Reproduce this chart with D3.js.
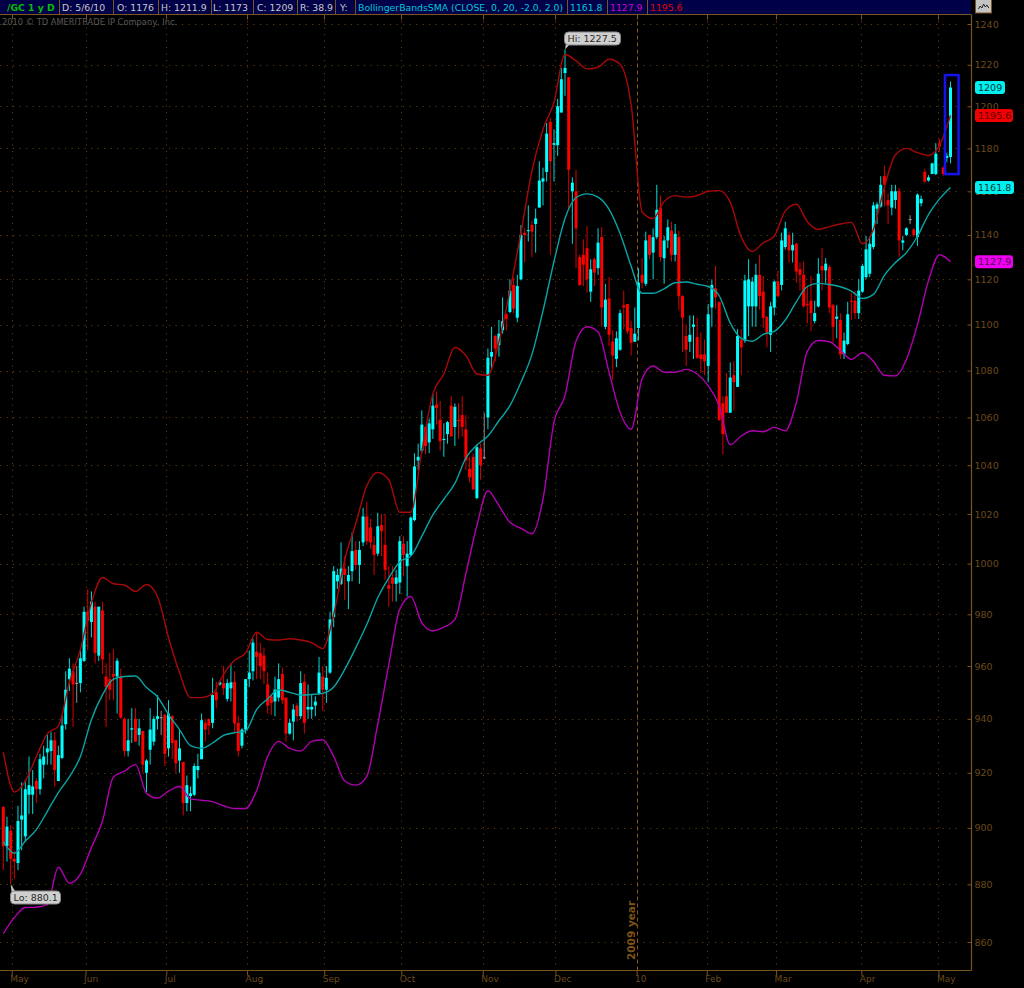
<!DOCTYPE html>
<html><head><meta charset="utf-8">
<script src="https://cdn.jsdelivr.net/npm/d3@7/dist/d3.min.js"></script>
<style>html,body{margin:0;padding:0;background:#000;overflow:hidden}svg{display:block}text{font-family:"DejaVu Sans",sans-serif}</style>
</head><body><svg id="c" width="1024" height="988"></svg>
<script>
const opens=[907.5,893.5,899,889,887.5,903,897,912,912,917,
914,923,927.5,928,932,917,925.5,938,955,958,
953.5,953.5,962,981,977,983,964,981.5,956,955,
957,956,956,940,928,936,940,934,935.5,920,
928.5,931.5,940,940.4,941.5,929,941,932,924.5,924,
909,911.5,912,921,925,938.5,940,938.5,950,953,
953.5,947.5,951.5,954,938.5,930,936,955,958,965.5,
965,964,953,948.5,946.5,948,957,948,934.5,939,
945,941,954,943.5,943.5,945,949.5,956,951,957.5,
979,993,992,998,993,997,1005.5,999.5,1008.5,1019,
1014.5,1007.5,1004,1015.5,1007.5,991.5,994.5,992,992.5,1008,
999,1003.5,1017.5,1042,1046,1056,1049.5,1055,1065.5,1059,
1050.5,1053,1065,1056,1059,1061,1055,1038.5,1043.5,1026.5,
1047,1043,1060,1086,1095,1091,1097.5,1104.5,1105.5,1117.5,
1103,1120,1141,1141.7,1144.5,1145,1152.5,1164.5,1169,1192.5,
1181.7,1181.5,1197,1216,1214,1160,1160,1130,1131,1134,
1114.5,1129,1125,1139,1099,1111.5,1092.5,1085,1089,1108.5,
1109,1098.5,1092.5,1098.5,1122,1118,1140,1132,1139,1152.5,
1129.5,1137.5,1142,1131,1139,1112.5,1095,1092.5,1099,1094.5,
1087,1087,1082,1107.5,1116,1110,1066,1069,1062,1078,
1073,1093.5,1093,1108,1108,1108,1122,1114.5,1103.5,1095.5,
1107.5,1119,1117.5,1134.5,1140,1133,1136,1124.5,1122,1109,
1110.5,1101.5,1108,1126,1124,1125.5,1108.5,1102.5,1102,1087,
1091.5,1110.5,1110.5,1105,1114.5,1121,1122.5,1134.5,1152,1153,
1167,1156,1152.5,1156,1160,1136.5,1140,1147,1142.5,1139,
1154.5,1169,1165,1168,1168,1182.5,1171,1175.5,1176];
const closes=[893.5,900.5,889,888,902.5,904.5,914,915.5,915,914,
925,926,929,932,921,926.5,937.5,951,959,953,
953.6,963,981,977.5,985,965,983,962.5,952,951,
956,962,940.5,928,932,936.5,931.5,936.5,923,924.5,
936,940,941,940.6,927,942,931,923.5,929,909,
915.5,912.5,922.5,922.5,939.5,936,937.5,949,947,953.8,
951.5,953.5,953.8,938.3,928,936,955,957.5,969,963.5,
960,958,945,946,951,955,947,934.5,938.5,943.5,
941,953.5,938.5,944.5,944.5,946.5,957.5,951,955.5,978,
997,995.5,998,995.5,995.5,1005,999.5,1005.5,1019,1009,
1008.5,1003.5,1015,1013,997.5,990,992,994.5,1009,1003.5,
1004,1018.5,1039.5,1043.5,1057,1048,1057.5,1065,1064,1050,
1051,1058,1052,1064.5,1058.5,1056,1042,1035,1030,1047.5,
1040,1043.3,1085.5,1088,1089.5,1096,1101.5,1102.5,1115,1107,
1117,1140,1140,1142.2,1141.5,1147.5,1165,1166,1187,1174,
1182.5,1200,1213,1218.5,1170,1164,1143,1117.5,1126.5,1120,
1124.5,1123,1136.5,1107.5,1111,1095.5,1086.5,1094,1105,1107.5,
1097,1092,1096,1118.5,1118.5,1137.5,1131,1139,1151.5,1130,
1137.5,1143.5,1131,1140.5,1112.5,1103,1089,1095.5,1100,1085.5,
1085,1084,1104.5,1117.5,1112,1059,1053,1062,1077,1075,
1095,1090,1119.5,1120,1119,1122,1112.5,1103,1096.5,1108,
1119,1112.5,1137.5,1143,1133,1135.5,1123.5,1122,1108,1108.5,
1105,1105,1122.5,1124,1127,1107.5,1099,1103.5,1087,1093,
1104.5,1110,1105,1115,1126,1133.5,1136,1153.5,1154,1163,
1163,1153.5,1160,1160,1137.5,1137.5,1143,1147.2,1140,1158.5,
1156.5,1164.5,1166.5,1173,1177.5,1181,1168,1176.5,1209];
const highs=[908,904,901,892,908,916.5,917.5,926,921,918,
927,930,934,935,935,930,941,958,963,961,
960,966.5,983,990,989,985,983,985,961,965,
966.5,963,959,940.5,940,944,944,940,935.5,925,
944,941,949,943,942,947,941.5,932,936,924,
919,915,923.5,927,942,940,940,955.5,954,954,
960,955,961,958,941,936.5,955,966,970.5,973,
969,967,957.5,949,956,961,959.5,948,940,945.5,
946,958,957,953,949,948.5,963.5,960,960,981,
999,998,1008.5,1003,999,1012.5,1009,1009,1022.5,1025,
1018,1011,1020.5,1020,1020,999,999,997.5,1011,1011,
1009,1019,1045,1049,1063,1056.5,1059.5,1070,1071,1067,
1057.5,1058.5,1069,1066,1066,1069,1061,1043.5,1045,1048.5,
1049,1062,1089.5,1099,1095.5,1102,1112,1105,1120,1121,
1122,1144.5,1143,1153.5,1146.5,1152,1174,1171,1192,1194.5,
1189,1203.5,1218.5,1227.5,1214,1166.5,1170,1131,1138,1144,
1129,1130,1143,1143.5,1118,1121,1097.5,1097,1106.5,1115,
1109,1101.5,1107.5,1125,1129.5,1141.5,1140,1143,1163,1158,
1139.5,1147,1146,1145,1142,1113,1100,1104,1104,1103,
1096.5,1093.5,1109,1120,1126,1110,1069,1079,1083.5,1084,
1098,1098,1122,1129,1121,1127,1131,1121.5,1103.5,1110,
1119.5,1124,1141,1146,1141.5,1141,1136.5,1127.5,1128,1117,
1121.5,1110.5,1129.5,1134,1129.5,1126.5,1109,1108.5,1105,1096.5,
1110,1114,1115,1120,1127,1139.5,1139.5,1155,1155,1167,
1172,1159,1163,1163,1161.5,1139.5,1143.5,1149,1143,1159,
1158,1170.5,1167.5,1173.3,1182.5,1184.5,1171.5,1178,1211.9];
const lows=[885,888,880.1,882,885,892,895,905,905,909,
912,918,923,923,915,917,925,936,950.5,937,
946,950,961.5,966,971,961,962,957,937,947,
947,942,940,926,926,931,931.5,930,920,913,
923,930,936,934,922.5,926,925,920,920,904.5,
906,906,911.5,918,925,931.5,934,936.5,944,952.5,
949,946.5,946.5,935,926,929,934.5,952,954.5,955,
955,953,942,941.5,941,946.5,945.5,931.5,934,932,
939,940,934.5,940,940,941,949,943,946,957,
975,990,991.5,985.5,982,993,997.5,992,1007,1007.5,
1006,995.5,1003,1003,993.5,983,985,985,988,995,
987,1003,1017,1038,1045,1044.5,1045,1051,1057,1046,
1043.5,1049,1052,1048,1051,1052,1038,1033,1030,1026,
1034,1042.5,1055,1081,1084,1086,1096,1097.5,1105,1105,
1101,1119.5,1127.5,1137,1130,1132,1152.5,1153.5,1164.5,1131,
1164.5,1176.5,1197,1205,1152,1136,1125,1117,1117,1114,
1110,1117,1122,1099,1098,1090.5,1076,1081.5,1088.5,1098,
1096,1086.5,1092.5,1093,1116,1117,1129,1120,1138,1128,
1118,1134,1128,1128,1106.5,1088,1082,1088,1085,1085,
1079,1078,1075,1099,1107,1058.5,1044.5,1062,1062,1063,
1073,1078,1092,1095,1099,1099,1106.5,1098.5,1090,1088,
1104,1112,1115,1133.5,1127.5,1127.5,1118.5,1115,1107.5,1100.5,
1097,1100.5,1107.5,1115,1118,1105,1092,1094,1085,1085,
1091,1102,1102.5,1102.5,1114,1120,1121,1133.5,1145,1152.5,
1153,1145,1149,1152,1130,1133,1139.5,1145,1139,1135,
1153,1164,1164.5,1168,1167.5,1178.5,1167,1173.5,1173];
// Bollinger band readings, one every third bar (bar 0, 3, 6 ... 258)
const upperBand=[927.7,913,917,926,934.5,937.3,953.7,966.3,984.5,994.5,
992,991.5,989,991.7,987,971,957.5,948,948,949.5,
956.8,962.2,965,973,970.2,970,970.5,970,969,966.7,
980,1001.6,1016,1031.5,1037,1034,1020.7,1020.7,1046,1070,
1078.5,1090,1086.5,1078.5,1078,1092.5,1115,1141,1169.5,1189,
1202,1225,1222,1218,1218.8,1222.7,1220.3,1201,1150.5,1147.5,
1155.3,1158,1157.3,1158,1160,1160.3,1155,1139,1132.5,1136.4,
1139.4,1151,1154,1146,1142.5,1143.8,1145,1145.7,1136,1142.5,
1162,1177,1180,1178,1176.7,1181.5,1195.6];
const middleBand=[895,891,895.3,899.4,906,912.8,918.5,926,939.7,949,
955,956,956.2,951.8,948.3,941.6,936,930,929,931,
933.8,934.8,935.5,943.5,947.5,951,950,949,949.2,949.6,
952,958.7,967,976,986.5,994.3,1000.8,1003,1011,1019.6,
1026,1032.5,1043,1048.4,1052.2,1058.6,1065,1075,1087,1106,
1128,1147.5,1157,1158.8,1157.3,1151.7,1140.7,1126,1113.8,1113.8,
1115.8,1118.5,1118.8,1117.8,1116.8,1112.7,1100.7,1094,1092.7,1095.7,
1097,1102,1110,1116.8,1118.2,1117.7,1116.7,1114.8,1111.5,1113.3,
1121.8,1127.5,1132,1139.4,1149.3,1156.5,1161.8];
const lowerBand=[862.9,868.4,871.9,872,873,886,880.4,883.6,893,902.5,
918.5,920.6,923,912.5,910.8,913.3,915,910.5,910,909.5,
908,907,907,913.5,926,931.6,929,928,931.6,932.2,
926,917,915.5,918.7,938,960.5,982,987,976.7,973.6,
975,978,996,1015.3,1029.5,1023.4,1016.6,1014.2,1012,1026,
1058,1069.3,1092.7,1099,1096.7,1079.3,1062.2,1055,1076.5,1082,
1079.3,1079.3,1080.5,1078.5,1073.5,1065,1048.6,1052.2,1054.4,1054,
1055.8,1054.4,1066.3,1088.3,1093,1092.5,1088.8,1084.8,1087.7,1084,
1078,1077.7,1084.8,1100,1119.3,1131,1127.9];
const bandStep=3;
const priceTicks=[860,880,900,920,940,960,980,1000,1020,1040,1060,1080,1100,1120,1140,1160,1180,1200,1220,1240];
const monthBars=[2.3,22.4,44.4,66.4,87.4,108.4,130.6,150.4,172.5,191.6,210.5,233.7,254.7];
const monthLabels=["May","Jun","Jul","Aug","Sep","Oct","Nov","Dec","10","Feb","Mar","Apr","May"];
const headerCells=[
 {t:"/GC 1 y D",c:"#00c000",b:1},{t:"D: 5/6/10",c:"#c8c8c8"},{t:"O: 1176",c:"#c8c8c8"},{t:"H: 1211.9",c:"#c8c8c8"},
 {t:"L: 1173",c:"#c8c8c8"},{t:"C: 1209",c:"#c8c8c8"},{t:"R: 38.9",c:"#c8c8c8"},{t:"Y:",c:"#c8c8c8"},
 {t:"BollingerBandsSMA (CLOSE, 0, 20, -2.0, 2.0)",c:"#00c8d8"},{t:"1161.8",c:"#00c8d8"},{t:"1127.9",c:"#d000d0"},{t:"1195.6",c:"#e00000"}];
const headerX=[7,62,117,161,213,257,300,340,358,570,610,650];
const headerSep=[59,113,158,211,253,297,335,355,567,607,647];
const tags=[{v:1209,t:"1209",bg:"#00f0f0",fg:"#003838",w:30},{v:1195.6,t:"1195.6",bg:"#f00000",fg:"#600000",w:38},
 {v:1161.8,t:"1161.8",bg:"#00f0f0",fg:"#003838",w:39},{v:1127.9,t:"1127.9",bg:"#f000f0",fg:"#500050",w:38}];

const brown="#6b4a1c", gridC="#5c3d12";
const svg=d3.select("#c");
const x=d3.scaleLinear().domain([0,258]).range([3.3,950.5]);
const y=d3.scaleLog().domain([860,1240]).range([942,24]);
const AX=971, AY=970, TOP=14.5;

// grid
const grid=svg.append("g");
grid.selectAll("line.h").data(priceTicks).join("line").attr("x1",0).attr("x2",959)
 .attr("y1",d=>Math.round(y(d))+.5).attr("y2",d=>Math.round(y(d))+.5)
 .attr("stroke",gridC).attr("stroke-dasharray","1.2 5.3");
const plainMonths=monthBars.filter((d,i)=>monthLabels[i]!=="10");
grid.selectAll("line.v").data(plainMonths).join("line")
 .attr("x1",d=>Math.round(x(d))+.5).attr("x2",d=>Math.round(x(d))+.5).attr("y1",TOP).attr("y2",AY)
 .attr("stroke",gridC).attr("stroke-dasharray","1.2 5.3");
grid.append("g").selectAll("line").data(monthBars).join("line")
 .attr("x1",d=>Math.round(x(d))+.5).attr("x2",d=>Math.round(x(d))+.5).attr("y1",TOP).attr("y2",TOP+5).attr("stroke","#7a5520");
const yearX=Math.round(x(monthBars[8]))+.5;
grid.append("line").attr("x1",yearX).attr("x2",yearX).attr("y1",TOP).attr("y2",AY)
 .attr("stroke","#8a5a14").attr("stroke-dasharray","4 3");
svg.append("text").attr("transform",`translate(${yearX-3},960) rotate(-90)`).attr("font-size",10.5)
 .attr("font-weight","bold").attr("fill","#7c5218").text("2009 year");

// candles
const bars=d3.range(opens.length).map(i=>({i,o:opens[i],h:highs[i],l:lows[i],c:closes[i]}));
const col=d=>Math.abs(d.c-d.o)<0.35?"#a8a8a8":(d.c>=d.o?"#00ffff":"#ff0000");
const cg=svg.append("g");
cg.selectAll("line").data(bars).join("line").attr("x1",d=>x(d.i)).attr("x2",d=>x(d.i))
 .attr("y1",d=>y(d.h)).attr("y2",d=>y(d.l)).attr("stroke",col).attr("stroke-width",1).attr("opacity",.85);
cg.selectAll("rect").data(bars).join("rect").attr("x",d=>x(d.i)-1.5).attr("width",3)
 .attr("y",d=>y(Math.max(d.o,d.c))).attr("height",d=>Math.max(1,Math.abs(y(d.o)-y(d.c)))).attr("fill",col);

// bands
const line=d3.line().x((d,i)=>x(i*bandStep)).y(d=>y(d)).curve(d3.curveMonotoneX);
[[upperBand,"#a80808"],[middleBand,"#0aa4a4"],[lowerBand,"#b000b0"]].forEach(([s,c])=>{
 svg.append("path").attr("d",line(s)).attr("fill","none").attr("stroke",c).attr("stroke-width",1.4);
});

// highlight box around last bar
svg.append("rect").attr("x",x(256.5)).attr("width",x(260.2)-x(256.5))
 .attr("y",y(1215)).attr("height",y(1168)-y(1215)).attr("fill","none").attr("stroke","#1414e6").attr("stroke-width",2.6);

// top bar
svg.append("rect").attr("x",0).attr("y",0).attr("width",AX).attr("height",14).attr("fill","#000048");
svg.append("g").selectAll("line").data(headerSep).join("line").attr("x1",d=>d+.5).attr("x2",d=>d+.5).attr("y1",0).attr("y2",14)
 .attr("stroke","#7a5520");
svg.append("g").selectAll("text").data(headerCells).join("text").attr("x",(d,i)=>headerX[i]).attr("y",10.5)
 .attr("font-size",9.3).attr("font-weight",d=>d.b?"bold":null).attr("fill",d=>d.c).text(d=>d.t);
svg.append("line").attr("x1",0).attr("x2",AX).attr("y1",TOP).attr("y2",TOP).attr("stroke","#7a5520");
svg.append("rect").attr("x",975.5).attr("y",-1).attr("width",16).attr("height",14).attr("fill","#c4c4c4").attr("stroke","#7a5520");
svg.append("path").attr("d",d3.line()(d3.range(7).map(k=>[978.5+k*1.7,[9,6,8,4,7,5,8][k]]))).attr("fill","none").attr("stroke","#222").attr("stroke-width",1);
svg.append("text").attr("x",2).attr("y",25).attr("font-size",8.3).attr("fill","#5a5a5a").text("2010 © TD AMERITRADE IP Company, Inc.");

// axes
const yAxis=svg.append("g").attr("transform",`translate(${AX+.5},0)`)
 .call(d3.axisRight(y).tickValues(priceTicks).tickFormat(d3.format("d")).tickSize(0).tickPadding(3));
const xAxis=svg.append("g").attr("transform",`translate(0,${AY+.5})`)
 .call(d3.axisBottom(x).tickValues(monthBars).tickFormat((d,i)=>monthLabels[i]).tickSize(5));
[yAxis,xAxis].forEach(a=>{a.selectAll("text").attr("fill",brown).attr("font-family",'"DejaVu Sans",sans-serif');
 a.selectAll("line").attr("stroke","#7a5520");a.select(".domain").attr("stroke","#7a5520").attr("stroke-width",1.2);});
yAxis.selectAll("text").attr("font-size",9.5);
xAxis.selectAll("text").attr("font-size",9).attr("y",5).attr("text-anchor","start").attr("dx",-2);
yAxis.select(".domain").attr("d",`M0,${TOP}V${AY+.5}`);
xAxis.select(".domain").attr("d",`M0,0H${AX+.5}`);
yAxis.selectAll(".tick").append("line").attr("x1",-4).attr("x2",0).attr("stroke","#7a5520");

// right-hand value tags
const tg=svg.append("g").selectAll("g").data(tags).join("g").attr("transform",d=>`translate(975,${y(d.v)})`);
tg.append("rect").attr("x",0).attr("y",-6.5).attr("rx",3).attr("width",d=>d.w).attr("height",13).attr("fill",d=>d.bg);
tg.append("text").attr("x",3).attr("y",3.6).attr("font-size",9.5).attr("fill",d=>d.fg).text(d=>d.t);

// hi / lo callouts
function callout(bar,val,label,bx,by,w){
 const g=svg.append("g");
 g.append("path").attr("d",d3.line()([[x(bar),y(val)],[x(bar)+1,by+(by>y(val)?1:12)],[x(bar)+5,by+(by>y(val)?1:12)]])).attr("fill","#c8c8c8");
 g.append("rect").attr("x",bx).attr("y",by).attr("width",w).attr("height",13).attr("rx",4).attr("fill","#cfcfcf").attr("stroke","#888");
 g.append("text").attr("x",bx+3).attr("y",by+10).attr("font-size",9.5).attr("fill","#2a2a2a").text(label);
}
callout(153,1227.5,"Hi: 1227.5",564.5,32,56);
callout(2,880.1,"Lo: 880.1",10.5,891,50);
</script></body></html>
